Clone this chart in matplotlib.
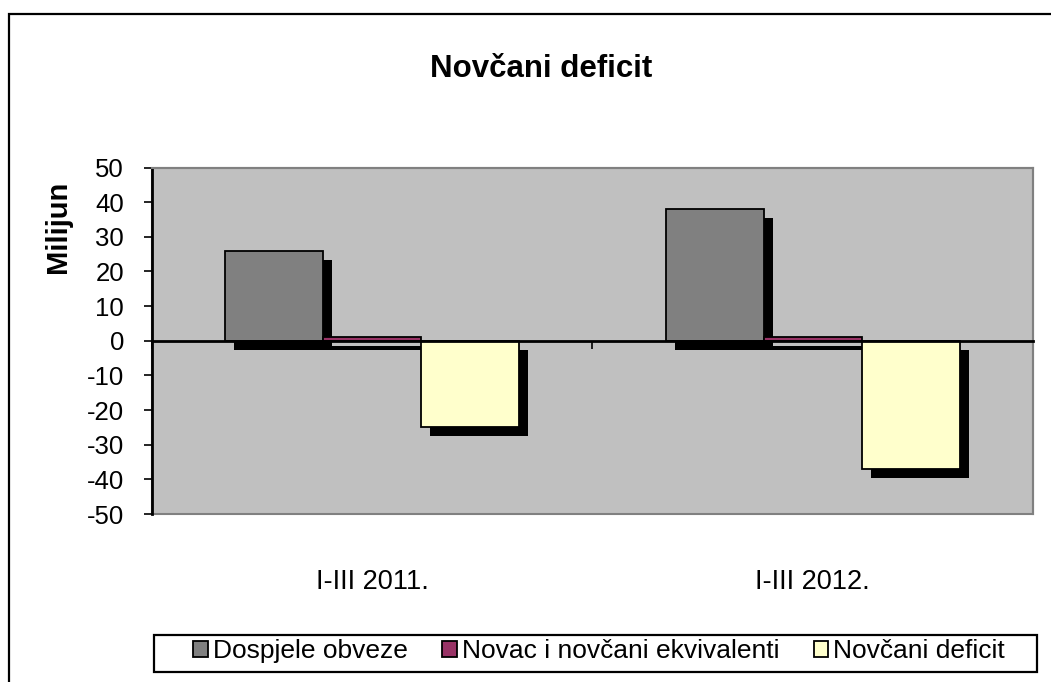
import matplotlib
matplotlib.use("Agg")
import matplotlib.pyplot as plt
import matplotlib.patheffects as pe
from matplotlib.patches import Rectangle
import numpy as np

plt.rcParams['font.family'] = ['Liberation Sans', 'DejaVu Sans']

# ---- data ----
categories = ['I-III 2011.', 'I-III 2012.']
series_names = ['Dospjele obveze', 'Novac i novčani ekvivalenti', 'Novčani deficit']
dospjele = [26, 38]
novac = [1, 1]
deficit = [-25, -37]
colors = ['#808080', '#993366', '#FFFFCC']
yticks = [50, 40, 30, 20, 10, 0, -10, -20, -30, -40, -50]

W, H = 1051, 682
fig = plt.figure(figsize=(W / 100, H / 100), dpi=100)
fig.patch.set_facecolor('white')

# axes position (pixels -> fractions)
left, right, top, bottom = 151.7, 1033, 167.5, 514
ax = fig.add_axes([left / W, 1 - bottom / H, (right - left) / W, (bottom - top) / H])
ax.set_facecolor('#C0C0C0')
ax.patch.set_edgecolor('#808080')
ax.patch.set_linewidth(1.5)

x = np.arange(len(categories))
bw = 1 / 4.5
shadow = [pe.SimplePatchShadow(offset=(6.5, -6.5), shadow_rgbFace='black', alpha=1.0), pe.Normal()]
for i, (vals, col, name) in enumerate(zip([dospjele, novac, deficit], colors, series_names)):
    bars = ax.bar(x + (i - 1) * bw, vals, width=bw, color=col, edgecolor='black',
                  linewidth=1.3, label=name, zorder=2)
    for b in bars:
        b.set_path_effects(shadow)

ax.set_xlim(-0.5, 1.5)
ax.set_ylim(-50, 50)
ax.set_yticks(yticks)
ax.set_yticklabels([str(v) for v in yticks])
ax.tick_params(axis='y', direction='out', length=6, width=1.2, pad=14, labelsize=18.5, colors='black')

# x axis at zero
ax.spines['bottom'].set_position(('data', 0))
ax.spines['bottom'].set_color('black')
ax.spines['bottom'].set_linewidth(2)
ax.spines['bottom'].set_zorder(3)
ax.spines['left'].set_color('black')
ax.spines['left'].set_linewidth(2)
for s in ['top', 'right']:
    ax.spines[s].set_color('#808080')
    ax.spines[s].set_linewidth(1.5)

ax.set_xticks([-0.5, 0.5, 1.5])
ax.set_xticklabels(['', '', ''])
ax.tick_params(axis='x', which='major', direction='out', length=6, width=1.2)
ax.set_xticks(x, minor=True)
ax.set_xticklabels(categories, minor=True)
ax.tick_params(axis='x', which='minor', length=0, pad=164, labelsize=19.5)

# title and y label
fig.text(541 / W, 1 - 77 / H, 'Novčani deficit', ha='center', va='baseline',
         fontsize=22.5, fontweight='bold')
fig.text(58 / W, 1 - 227 / H, 'Milijun', ha='center', va='center', rotation=90,
         fontsize=21, fontweight='bold')

# legend
leg = fig.legend(loc='center left', bbox_to_anchor=(186.5 / W, 1 - 651 / H), ncol=3,
                 fontsize=19, frameon=False, handlelength=0.55,
                 handleheight=0.55, handletextpad=0.2, columnspacing=1.3,
                 borderpad=0.25, borderaxespad=0)
for h in leg.legend_handles:
    h.set_path_effects([])
    h.set_linewidth(1.3)
fig.patches.append(Rectangle((154 / W, 1 - 672 / H), (1037 - 154) / W, 37 / H,
                             transform=fig.transFigure, fill=False, edgecolor='black',
                             linewidth=1.6, figure=fig))

# outer chart border
fig.patches.append(Rectangle((8.5 / W, -0.2), 1.2, 1 - 13.5 / H + 0.2, transform=fig.transFigure,
                             fill=False, edgecolor='black', linewidth=1.6, figure=fig))

fig.savefig('out.png', dpi=100)
